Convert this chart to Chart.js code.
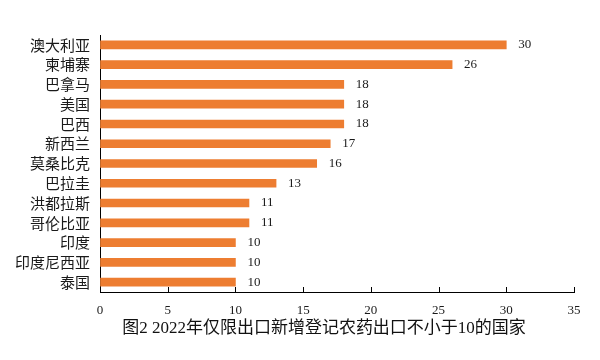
<!DOCTYPE html>
<html>
<head>
<meta charset="utf-8">
<script src="https://cdn.jsdelivr.net/npm/chart.js@4/dist/chart.umd.min.js"></script>
<style>
  html, body { margin: 0; padding: 0; background: #ffffff; }
  #wrap { width: 600px; height: 360px; position: relative; }
</style>
</head>
<body>
<div id="wrap"><canvas id="c" width="600" height="360"></canvas></div>
<script>
const categories = ["澳大利亚", "柬埔寨", "巴拿马", "美国", "巴西", "新西兰", "莫桑比克", "巴拉圭", "洪都拉斯", "哥伦比亚", "印度", "印度尼西亚", "泰国"];
const values = [30, 26, 18, 18, 18, 17, 16, 13, 11, 11, 10, 10, 10];
const xTicks = [0, 5, 10, 15, 20, 25, 30, 35];
const titleText = "图2 2022年仅限出口新增登记农药出口不小于10的国家";

const barColor = "#ED7D31";
const serif = "'Liberation Serif', 'Noto Sans CJK SC', serif";
const cjk = "'Noto Sans CJK SC', sans-serif";

const upTicks = {
  id: "upTicks",
  afterDraw(chart) {
    const ctx = chart.ctx;
    const xs = chart.scales.x;
    const bottom = chart.chartArea.bottom;
    ctx.save();
    ctx.strokeStyle = "#000";
    ctx.lineWidth = 1;
    xTicks.forEach(v => {
      const px = Math.round(xs.getPixelForValue(v)) + 0.5;
      ctx.beginPath();
      ctx.moveTo(px, bottom);
      ctx.lineTo(px, bottom - 5);
      ctx.stroke();
    });
    ctx.restore();
  }
};

const valueLabels = {
  id: "valueLabels",
  afterDatasetsDraw(chart) {
    const ctx = chart.ctx;
    const meta = chart.getDatasetMeta(0);
    ctx.save();
    ctx.font = "13px " + serif;
    ctx.fillStyle = "#1a1a1a";
    ctx.textAlign = "left";
    ctx.textBaseline = "middle";
    meta.data.forEach((bar, i) => {
      ctx.fillText(String(values[i]), bar.x + 12, bar.y);
    });
    ctx.restore();
  }
};

const bottomTitle = {
  id: "bottomTitle",
  afterDraw(chart) {
    const ctx = chart.ctx;
    ctx.save();
    ctx.font = "17px " + serif;
    ctx.fillStyle = "#111";
    ctx.textAlign = "center";
    ctx.textBaseline = "middle";
    ctx.fillText(titleText, 324, 329);
    ctx.restore();
  }
};

new Chart(document.getElementById("c"), {
  type: "bar",
  data: {
    labels: categories,
    datasets: [{
      data: values,
      backgroundColor: barColor,
      borderWidth: 0,
      barThickness: 8
    }]
  },
  options: {
    indexAxis: "y",
    responsive: false,
    animation: false,
    devicePixelRatio: 1,
    layout: { padding: { top: 35, right: 26, bottom: 0, left: 0 } },
    plugins: {
      legend: { display: false },
      tooltip: { enabled: false },
      title: { display: false }
    },
    scales: {
      x: {
        type: "linear",
        min: 0,
        max: 35,
        afterBuildTicks(scale) { scale.ticks = xTicks.map(v => ({ value: v })); },
        afterFit(scale) { scale.height = 68; },
        ticks: {
          padding: 11,
          color: "#1a1a1a",
          font: { family: serif, size: 13 },
          maxRotation: 0,
          autoSkip: false
        },
        grid: { display: true, drawOnChartArea: false, drawTicks: false },
        border: { display: true, color: "#000", width: 1 }
      },
      y: {
        afterFit(scale) { scale.width = 100; },
        ticks: {
          padding: 10,
          color: "#1a1a1a",
          font: { family: cjk, size: 15 },
          autoSkip: false
        },
        grid: { display: false, drawTicks: false },
        border: { display: true, color: "#000", width: 1 }
      }
    }
  },
  plugins: [upTicks, valueLabels, bottomTitle]
});
</script>
</body>
</html>
